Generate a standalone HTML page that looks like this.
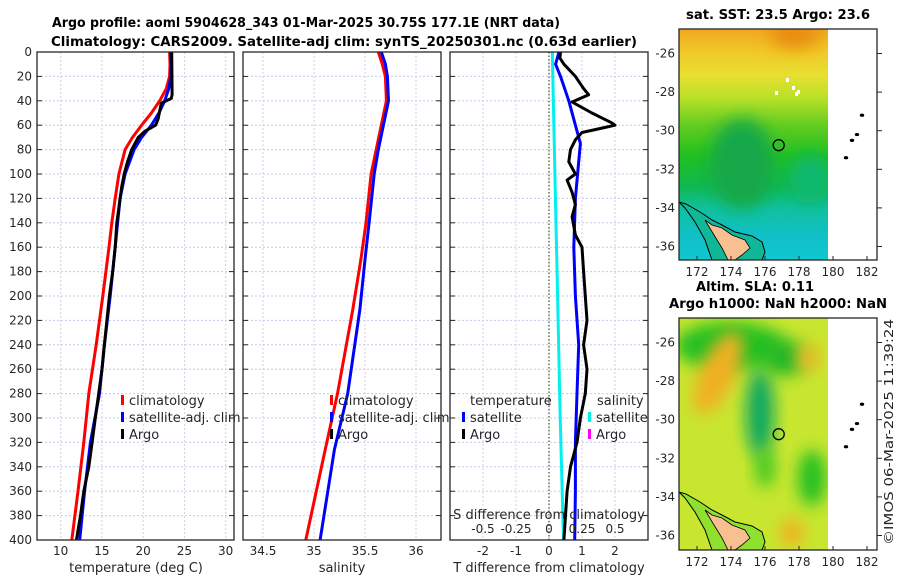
<!DOCTYPE html>
<html><head><meta charset="utf-8"><style>
html,body{margin:0;padding:0;background:#fff;}
svg{display:block;font-family:"DejaVu Sans","Liberation Sans",sans-serif;}
.tk{font-size:12px;fill:#262626;}
.ttl{font-size:13px;font-weight:bold;fill:#000;}
</style></head><body>
<svg id="fig" width="900" height="580" viewBox="0 0 900 580">
<defs>
<linearGradient id="sstg" x1="0" y1="0" x2="0" y2="1">
<stop offset="0" stop-color="#f0a820"/><stop offset="0.1" stop-color="#f0c828"/><stop offset="0.2" stop-color="#e8e030"/>
<stop offset="0.3" stop-color="#b8e028"/><stop offset="0.42" stop-color="#60cc20"/><stop offset="0.55" stop-color="#20c020"/>
<stop offset="0.68" stop-color="#10b850"/><stop offset="0.78" stop-color="#10c0a0"/><stop offset="0.9" stop-color="#10c0c8"/><stop offset="1" stop-color="#10c8d0"/>
</linearGradient>
<filter id="bl" x="-50%" y="-50%" width="200%" height="200%"><feGaussianBlur stdDeviation="8"/></filter>
<clipPath id="c1"><rect x="679" y="29" width="149" height="231"/></clipPath>
<clipPath id="c2"><rect x="679" y="318" width="149" height="232"/></clipPath>
</defs>
<text class="ttl" x="306" y="27" text-anchor="middle" textLength="508" lengthAdjust="spacingAndGlyphs">Argo profile: aoml 5904628_343 01-Mar-2025 30.75S 177.1E (NRT data)</text>
<text class="ttl" x="344" y="46" text-anchor="middle" textLength="586" lengthAdjust="spacingAndGlyphs">Climatology: CARS2009. Satellite-adj clim: synTS_20250301.nc (0.63d earlier)</text>
<g id="panels"></g>
<g id="maps"></g>
<text x="893" y="432" transform="rotate(-90 893 432)" text-anchor="middle" textLength="226" lengthAdjust="spacingAndGlyphs" style="font-size:12px;fill:#262626">©IMOS 06-Mar-2025 11:39:24</text>
</svg>
<script>
// ---- data ----
const tempClimDepth=[0,10,20,30,40,50,60,70,80,100,120,140,160,200,240,280,320,360,400];
const tempClim=[23.2,23.25,23.2,22.8,22.0,21.0,19.8,18.7,17.8,17.05,16.6,16.2,15.85,15.1,14.3,13.4,12.8,12.1,11.35];
const tempSatDepth=[0,10,20,30,40,50,60,70,80,100,120,140,160,200,240,280,320,360,400];
const tempSat=[23.3,23.4,23.35,23.1,22.6,21.9,21.0,19.8,18.9,17.8,17.2,16.9,16.6,16.0,15.3,14.7,13.6,12.9,12.3];
const tempArgoDepth=[0,35,38,42,55,60,65,70,80,90,100,110,120,130,140,160,180,200,220,240,260,280,300,320,340,360,380,400];
const tempArgo=[23.45,23.5,23.4,22.2,21.8,21.5,20.2,19.4,18.6,18.1,17.7,17.4,17.2,17.0,16.8,16.6,16.3,15.9,15.6,15.3,15.0,14.6,14.2,13.8,13.4,12.8,12.4,11.9];
const salDepth=[0,10,20,40,60,80,100,140,170,211,280,326,400];
const salClim=[35.63,35.67,35.70,35.71,35.66,35.61,35.56,35.51,35.46,35.38,35.23,35.11,34.92];
const salSat=[35.66,35.70,35.72,35.73,35.68,35.63,35.59,35.54,35.50,35.45,35.33,35.20,35.06];
const dArgoDepth=[0,5,10,20,30,35,41,50,58,60,63,66,72,80,90,100,105,115,125,135,150,160,180,200,220,240,260,280,300,320,340,360,380,400];
const dArgoT=[0.35,0.33,0.45,0.8,1.05,1.2,0.7,1.3,1.9,2.0,1.5,1.0,0.8,0.65,0.6,0.8,0.55,0.7,0.8,0.7,0.8,1.0,1.05,1.1,1.15,1.05,1.15,1.1,0.95,0.85,0.65,0.55,0.5,0.45];
const dSatDepth=[0,5,10,20,40,60,75,90,120,160,200,240,280,320,360,400];
const dSatT=[0.3,0.25,0.2,0.35,0.6,0.8,0.95,0.9,0.8,0.75,0.8,0.9,0.85,0.8,0.8,0.78];
const dSatSDepth=[0,100,200,300,400];
const dSatS=[0.025,0.045,0.065,0.085,0.11];
const depthTicks=[0,20,40,60,80,100,120,140,160,180,200,220,240,260,280,300,320,340,360,380,400];
const tTicks=[10,15,20,25,30];
const sTicks=[34.5,35,35.5,36];
const dTTicks=[-2,-1,0,1,2];
const dSTicks=[-0.5,-0.25,0,0.25,0.5];
const dSTickLabels=["-0.5","-0.25","0","0.25","0.5"];
const lonTicks=[172,174,176,178,180,182];
const latTicks=[-26,-28,-30,-32,-34,-36];
const argoLon=177.1, argoLat=-30.75;

const NS="http://www.w3.org/2000/svg";
function mk(tag,attrs,parent){const e=document.createElementNS(NS,tag);for(const k in attrs)e.setAttribute(k,attrs[k]);parent.appendChild(e);return e;}
const P=document.getElementById('panels');
const Y0=52,Y1=540;
const yD=d=>Y0+(d/400)*(Y1-Y0);
const xT=t=>60.7+(t-10)*8.25;
const xS=s=>314+(s-35)*102;
const xDT=d=>549+d*33;
const xDS=s=>549+s*132;

function panel(x0,x1,xticks,xf,labels,name,showY){
  const g=mk('g',{},P);
  
  
  depthTicks.forEach(d=>{mk('line',{x1:x0,x2:x1,y1:yD(d),y2:yD(d),stroke:'#c5cbe8','stroke-width':1,'stroke-dasharray':'2,2'},g);});
  xticks.forEach(t=>{mk('line',{x1:xf(t),x2:xf(t),y1:Y0,y2:Y1,stroke:'#d8cce0','stroke-width':1,'stroke-dasharray':'2,2'},g);});
  depthTicks.forEach(d=>{mk('line',{x1:x0,x2:x0+5,y1:yD(d),y2:yD(d),stroke:'#262626'},g);mk('line',{x1:x1-5,x2:x1,y1:yD(d),y2:yD(d),stroke:'#262626'},g);
    if(showY){const t=mk('text',{x:x0-5,y:yD(d)+4,'text-anchor':'end',class:'tk'},g);t.textContent=d;
      
      }});
  xticks.forEach((t,i)=>{const tx=mk('text',{x:xf(t),y:555,'text-anchor':'middle',class:'tk'},g);tx.textContent=labels[i];
    
    });
  return g;
}
function line(g,depths,vals,xf,color,w,name){
  const pts=depths.map((d,i)=>xf(vals[i]).toFixed(1)+','+yD(d).toFixed(1)).join(' ');
  const p=mk('polyline',{points:pts,fill:'none',stroke:color,'stroke-width':w,'stroke-linejoin':'round'},g);
  
  
}
function frame(g,x0,x1){mk('rect',{x:x0,y:Y0,width:x1-x0,height:Y1-Y0,fill:'none',stroke:'#262626','stroke-width':1.3},g);}
function txt(g,x,y,s,name,anchor,size){const t=mk('text',{x:x,y:y,'text-anchor':anchor||'start',style:'font-size:'+(size||13)+'px;fill:#262626'},g);t.textContent=s;
  
  return t;}
function leg(g,x,y,color,s,name){mk('rect',{x:x,y:y-10,width:3,height:10,fill:color},g);
  const t=txt(g,x+8,y,s,name);}

// panel 1
let g1=panel(37,234,tTicks,xT,tTicks.map(String),'temperature-panel',true);
line(g1,tempClimDepth,tempClim,xT,'#ff0000',3,'temperature-climatology-line');
line(g1,tempSatDepth,tempSat,xT,'#0000ff',3,'temperature-satellite-line');
line(g1,tempArgoDepth,tempArgo,xT,'#000000',3,'temperature-argo-line');
frame(g1,37,234);
leg(g1,121,405,'#ff0000','climatology','legend-climatology');
leg(g1,121,422,'#0000ff','satellite-adj. clim','legend-satellite');
leg(g1,121,439,'#000000','Argo','legend-argo');
txt(g1,136,572,'temperature (deg C)','x-axis-title-temperature','middle');

// panel 2
let g2=panel(243,441,sTicks,xS,["34.5","35","35.5","36"],'salinity-panel',false);
line(g2,salDepth,salClim,xS,'#ff0000',3,'salinity-climatology-line');
line(g2,salDepth,salSat,xS,'#0000ff',3,'salinity-satellite-line');
frame(g2,243,441);
leg(g2,330,405,'#ff0000','climatology','legend-climatology-sal');
leg(g2,330,422,'#0000ff','satellite-adj. clim','legend-satellite-sal');
leg(g2,330,439,'#000000','Argo','legend-argo-sal');
txt(g2,342,572,'salinity','x-axis-title-salinity','middle');

// panel 3
let g3=panel(450,648,dTTicks,xDT,dTTicks.map(String),'difference-panel',false);
mk('line',{x1:xDT(0),x2:xDT(0),y1:Y0,y2:Y1,stroke:'#3a5a2a','stroke-width':1.2,'stroke-dasharray':'1.5,2'},g3);
line(g3,dSatSDepth,dSatS,xDS,'#00f0f0',3,'salinity-satellite-diff-line');
line(g3,dSatDepth,dSatT,xDT,'#0000ff',3,'temperature-satellite-diff-line');
line(g3,dArgoDepth,dArgoT,xDT,'#000000',3,'temperature-argo-diff-line');
frame(g3,450,648);
txt(g3,470,405,'temperature','legend-title-temperature');
leg(g3,462,422,'#0000ff','satellite','legend-t-satellite');
leg(g3,462,439,'#000000','Argo','legend-t-argo');
txt(g3,597,405,'salinity','legend-title-salinity');
leg(g3,588,422,'#00f0f0','satellite','legend-s-satellite');
leg(g3,588,439,'#ff00ff','Argo','legend-s-argo');
txt(g3,549,519,'S difference from climatology','s-axis-title','middle');
dSTicks.forEach((s,i)=>{txt(g3,xDS(s),533,dSTickLabels[i],'s-tick-label','middle',12);});
txt(g3,549,572,'T difference from climatology','x-axis-title-difference','middle');

// maps
const M=document.getElementById('maps');
const lonX=l=>697+(l-172)*17;
function mapAxes(top,bot,title,name,kind){
  const g=mk('g',{},M);
  
  
  const lat0=top+24.5; const latY=la=>lat0+(-26-la)*19.3;
  const f=mk('g',{'clip-path':'url(#'+(kind==1?'c1':'c2')+')'},g);
  if(kind==1){
    mk('rect',{x:679,y:top,width:149,height:bot-top,fill:'url(#sstg)'},f);
    mk('ellipse',{cx:795,cy:top+5,rx:25,ry:14,fill:'#e88c10',filter:'url(#bl)'},f);
    mk('ellipse',{cx:742,cy:top+135,rx:32,ry:45,fill:'#18a848',filter:'url(#bl)'},f);
    mk('ellipse',{cx:810,cy:top+150,rx:20,ry:25,fill:'#10b870',filter:'url(#bl)'},f);
    [[775,91],[792,86],[795,92],[797,90],[786,78]].forEach(p=>mk('rect',{x:p[0],y:p[1],width:3,height:4,fill:'#fff'},f));
  } else {
    mk('rect',{x:679,y:top,width:149,height:bot-top,fill:'#c8e630'},f);
    mk('ellipse',{cx:730,cy:top+28,rx:55,ry:24,fill:'#20c020',filter:'url(#bl)'},f);
    mk('ellipse',{cx:760,cy:top+95,rx:14,ry:45,fill:'#10a860',filter:'url(#bl)'},f);
    mk('ellipse',{cx:785,cy:top+40,rx:22,ry:18,fill:'#20b828',filter:'url(#bl)'},f);
    mk('ellipse',{cx:718,cy:top+55,rx:18,ry:45,fill:'#f0b020',filter:'url(#bl)',transform:'rotate(25 718 '+(top+55)+')'},f);
    mk('ellipse',{cx:808,cy:top+40,rx:12,ry:14,fill:'#f0b828',filter:'url(#bl)'},f);
    mk('ellipse',{cx:812,cy:top+160,rx:14,ry:28,fill:'#20c020',filter:'url(#bl)'},f);
    mk('ellipse',{cx:765,cy:top+150,rx:10,ry:20,fill:'#40c820',filter:'url(#bl)'},f);
    mk('ellipse',{cx:792,cy:top+215,rx:12,ry:14,fill:'#f0b020',filter:'url(#bl)'},f);
  }
  const shelf=kind==1?'#10b898':'#90e030';
  const b=bot;
  mk('polygon',{points:`679,${b-58} 686,${b-56} 700,${b-48} 712,${b-40} 722,${b-35} 735,${b-28} 752,${b-24} 762,${b-18} 765,${b-8} 762,${b} 712,${b} 705,${b-20} 695,${b-38} 685,${b-52}`,fill:shelf,stroke:'#000','stroke-width':1},f);
  mk('polygon',{points:`705,${b-40} 712,${b-35} 722,${b-32} 732,${b-25} 745,${b-20} 750,${b-12} 742,${b-5} 735,${b} 728,${b} 722,${b-12} 714,${b-25}`,fill:'#f8c090',stroke:'#000','stroke-width':0.8},f);
  mk('rect',{x:679,y:top,width:198,height:bot-top,fill:'none',stroke:'#262626','stroke-width':1.3},g);
  lonTicks.forEach(l=>{mk('line',{x1:lonX(l),x2:lonX(l),y1:bot,y2:bot-4,stroke:'#262626'},g);
    txt(g,lonX(l),bot+16,String(l),'lon-tick-label','middle',12);});
  latTicks.forEach(la=>{mk('line',{x1:877,x2:882,y1:latY(la),y2:latY(la),stroke:'#262626'},g);
    txt(g,675,latY(la)+4,String(la),'lat-tick-label','end',12);});
  const c=mk('circle',{cx:lonX(argoLon)-5,cy:latY(argoLat),r:5.5,fill:'none',stroke:'#000','stroke-width':1.3},g);
  
  
  [[862,latY(-29.2)],[857,latY(-30.2)],[852,latY(-30.5)],[846,latY(-31.4)]].forEach(p=>mk('ellipse',{cx:p[0],cy:p[1],rx:2.2,ry:1.6,fill:'#000'},g));
  title.forEach((s,i)=>{const t=txt(g,s[1],top-10-(title.length-1-i)*17,s[0],'map-title','middle',13);t.setAttribute('font-weight','bold');t.style.fill='#000';
    t.setAttribute('textLength',s[2]);t.setAttribute('lengthAdjust','spacingAndGlyphs');});
}
mapAxes(29,260,[['sat. SST: 23.5 Argo: 23.6',778,184]],'sst-map',1);
mapAxes(318,550,[['Altim. SLA: 0.11',755,118],['Argo h1000: NaN h2000: NaN',778,218]],'sla-map',2);
</script>
</body></html>
